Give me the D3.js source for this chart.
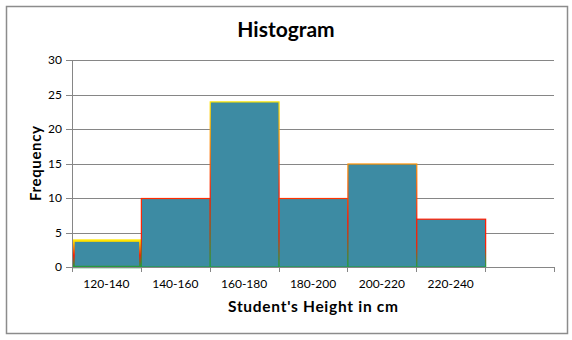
<!DOCTYPE html>
<html>
<head>
<meta charset="utf-8">
<script src="https://cdn.jsdelivr.net/npm/d3@7"></script>
<style>
  body { margin: 0; background: #fff; }
  text { font-family: Lato, "Open Sans", sans-serif; fill: #000; }
</style>
</head>
<body>
<div id="chart"></div>
<script>
// Histogram of student heights

// Data
// =======================================
var bins = ["120-140", "140-160", "160-180", "180-200", "200-220", "220-240"];
var freq = [4, 10, 24, 10, 15, 7];
var yTicks = [0, 5, 10, 15, 20, 25, 30];

// top colour of each bar's outline gradient
var edgeTop = ["#ffe600", "#ff2a00", "#ffe600", "#ff3300", "#ff9000", "#ff1a00"];

// Sizes
var width = 572;
var height = 340;
var plot = { left: 72, right: 554, top: 60, bottom: 267 };
var slots = bins.length + 1;  // one empty slot on the right

var svg = d3.select("#chart")
    .append("svg")
    .attr("width", width)
    .attr("height", height);

// outer frame
svg.append("rect")
    .attr("x", 6.5)
    .attr("y", 6.5)
    .attr("width", 561)
    .attr("height", 327)
    .attr("fill", "#fff")
    .attr("stroke", "#8c8c8c")
    .attr("stroke-width", 1.5);

// Scales
var x = d3.scaleLinear().domain([0, slots]).range([plot.left, plot.right]);
var y = d3.scaleLinear().domain([0, 30]).range([plot.bottom, plot.top]);

// Gridlines
svg.append("g")
    .selectAll("line")
    .data(yTicks)
    .join("line")
    .attr("x1", plot.left - 6)
    .attr("x2", plot.right)
    .attr("y1", function(d) { return Math.round(y(d)) + 0.5; })
    .attr("y2", function(d) { return Math.round(y(d)) + 0.5; })
    .attr("stroke", "#868686")
    .attr("stroke-width", 1);

// Y tick labels
svg.append("g")
    .selectAll("text")
    .data(yTicks)
    .join("text")
    .attr("x", plot.left - 10)
    .attr("y", function(d) { return y(d) + 4; })
    .attr("text-anchor", "end")
    .style("font-size", "12px")
    .text(function(d) { return d; });

// Gradients for bar outlines
var defs = svg.append("defs");
bins.forEach(function(b, i) {
    var g = defs.append("linearGradient")
        .attr("id", "edge" + i)
        .attr("x1", 0).attr("y1", 0)
        .attr("x2", 0).attr("y2", 1);
    g.append("stop").attr("offset", "0%").attr("stop-color", edgeTop[i]);
    g.append("stop").attr("offset", "55%").attr("stop-color", "#ff1a00");
    g.append("stop").attr("offset", "100%").attr("stop-color", "#1aa040");
});

// Bars
svg.append("g")
    .selectAll("rect")
    .data(freq)
    .join("rect")
    .attr("x", function(d, i) { return x(i) + (i === 0 ? 1.5 : 0.5); })
    .attr("y", function(d, i) { return y(d) + (i === 0 ? 1.2 : 0.5); })
    .attr("width", function(d, i) { return x(i + 1) - x(i) - (i === 0 ? 2 : 0); })
    .attr("height", function(d, i) { return y(0) - y(d) - (i === 0 ? 1.2 : 0.5); })
    .attr("fill", "#3d8ba3")
    .attr("stroke", function(d, i) { return "url(#edge" + i + ")"; })
    .attr("stroke-width", function(d, i) { return i === 0 ? 2.5 : 1.2; });

// Axes lines
svg.append("line")
    .attr("x1", plot.left + 0.5).attr("x2", plot.left + 0.5)
    .attr("y1", plot.top).attr("y2", plot.bottom + 5)
    .attr("stroke", "#868686");

svg.append("line")
    .attr("x1", plot.left).attr("x2", plot.right)
    .attr("y1", plot.bottom + 0.5).attr("y2", plot.bottom + 0.5)
    .attr("stroke", "#868686");

svg.append("g")
    .selectAll("line")
    .data(d3.range(slots + 1))
    .join("line")
    .attr("x1", function(d) { return Math.round(x(d)) + 0.5; })
    .attr("x2", function(d) { return Math.round(x(d)) + 0.5; })
    .attr("y1", plot.bottom)
    .attr("y2", plot.bottom + 5)
    .attr("stroke", "#868686");

// X tick labels
svg.append("g")
    .selectAll("text")
    .data(bins)
    .join("text")
    .attr("x", function(d, i) { return x(i + 0.5); })
    .attr("y", 288)
    .attr("text-anchor", "middle")
    .style("font-size", "12px")
    .text(function(d) { return d; });

// Titles
svg.append("text")
    .attr("x", 286)
    .attr("y", 37)
    .attr("text-anchor", "middle")
    .style("font-size", "21px")
    .style("font-weight", "bold")
    .text("Histogram");

svg.append("text")
    .attr("x", (plot.left + plot.right) / 2)
    .attr("y", 312)
    .attr("text-anchor", "middle")
    .attr("textLength", 170)
    .attr("lengthAdjust", "spacing")
    .style("font-size", "15.5px")
    .style("font-weight", "bold")
    .text("Student's Height in cm");

svg.append("text")
    .attr("transform", "translate(41," + ((plot.top + plot.bottom) / 2) + ")rotate(-90)")
    .attr("text-anchor", "middle")
    .attr("textLength", 75)
    .attr("lengthAdjust", "spacing")
    .style("font-size", "15px")
    .style("font-weight", "bold")
    .text("Frequency");
</script>
</body>
</html>
